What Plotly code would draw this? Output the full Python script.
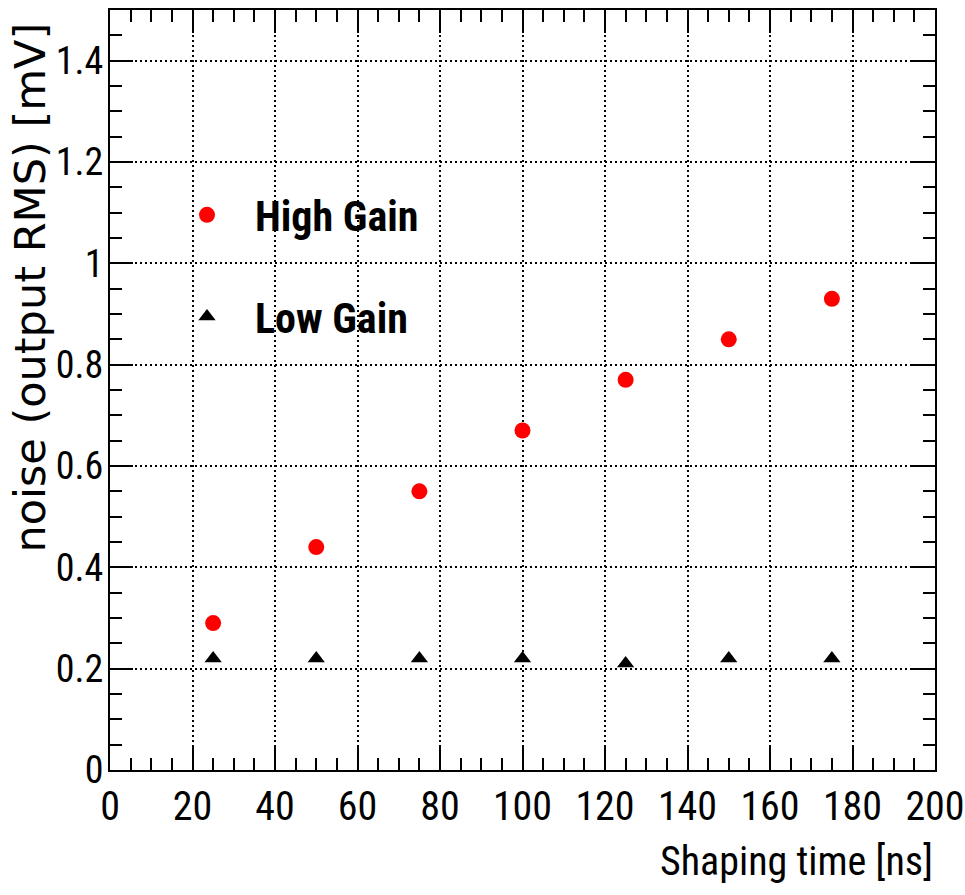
import plotly.graph_objects as go

shaping_time = [25, 50, 75, 100, 125, 150, 175]
high_gain = [0.29, 0.44, 0.55, 0.67, 0.77, 0.85, 0.93]
low_gain = [0.22, 0.22, 0.22, 0.22, 0.21, 0.22, 0.22]

x_title = "Shaping time [ns]"
y_title = "noise (output RMS) [mV]"

COND = "Roboto Condensed, Liberation Sans Narrow, Arial Narrow, sans-serif"

fig = go.Figure()
fig.add_trace(go.Scatter(
    x=shaping_time, y=high_gain, mode="markers", name="High Gain",
    legendgroup="hg",
    marker=dict(symbol="circle", size=16, color="#ff0000"),
))
fig.add_trace(go.Scatter(
    x=shaping_time, y=low_gain, mode="markers", name="Low Gain",
    legendgroup="lg",
    marker=dict(symbol="triangle-up", size=15, color="black"),
))

axis_common = dict(
    showline=True, linecolor="black", linewidth=2, mirror="ticks",
    ticks="inside", ticklen=23, tickwidth=1.5, tickcolor="black",
    showgrid=True, gridcolor="black", gridwidth=1.5, griddash="2px,3px",
    zeroline=False, automargin=False, ticklabeloverflow="allow",
)

fig.update_xaxes(
    range=[0, 200], dtick=20, tick0=0,
    minor=dict(dtick=5, ticks="inside", ticklen=12, tickwidth=1.5, tickcolor="black", showgrid=False),
    tickfont=dict(family=COND, size=40, color="black"),
    **axis_common,
)
fig.update_yaxes(
    range=[0, 1.5], dtick=0.2, tick0=0,
    minor=dict(dtick=0.05, ticks="inside", ticklen=12, tickwidth=1.5, tickcolor="black", showgrid=False),
    tickfont=dict(family=COND, size=38, color="black"),
    ticklabelstandoff=-3,
    **axis_common,
)

# axis titles placed ROOT-style (aligned to the end of each axis)
fig.add_annotation(
    text=x_title, xref="paper", yref="paper", x=1.0, y=-0.121,
    xanchor="right", yanchor="middle", showarrow=False,
    font=dict(family=COND, size=40, color="black"),
)
fig.add_annotation(
    text=y_title, xref="paper", yref="paper", x=-0.097, y=0.986,
    xanchor="center", yanchor="top", showarrow=False, textangle=-90,
    font=dict(family="DejaVu Sans", size=43, color="black"),
)

fig.update_layout(
    width=965, height=895,
    margin=dict(l=110, r=30, t=10, b=125),
    paper_bgcolor="white", plot_bgcolor="white",
    showlegend=True,
    legend=dict(
        x=0.0594, y=0.775, xanchor="left", yanchor="top",
        bgcolor="rgba(0,0,0,0)", borderwidth=0,
        font=dict(family=COND, size=42, color="black", weight="bold"),
        itemwidth=86, tracegroupgap=44,
    ),
)

fig.write_html("out.html")
